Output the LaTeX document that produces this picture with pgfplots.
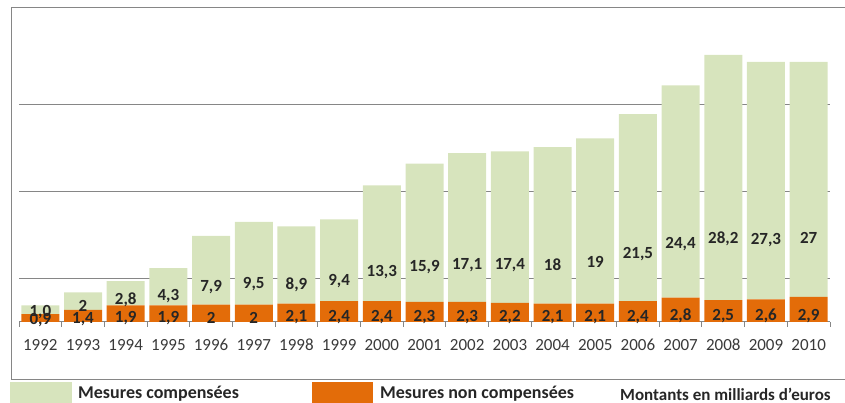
\documentclass[border=0pt]{standalone}
\usepackage{pgfplots}
\usepackage{pgfplotstable}
\pgfplotsset{compat=1.18}
\usepackage{fontspec}
\setmainfont{Carlito}[Ligatures=ResetAll]
\definecolor{cgreen}{HTML}{D7E4BD}
\definecolor{corange}{HTML}{E36C09}
\definecolor{cgrid}{HTML}{868686}
\definecolor{ctext}{HTML}{262626}
\definecolor{cyear}{HTML}{3A3A3A}

\pgfplotstableread{
x o g ol gl
0 0.9 1.0 0,9 1,0
1 1.4 2 1,4 2
2 1.9 2.8 1,9 2,8
3 1.9 4.3 1,9 4,3
4 2 7.9 2 7,9
5 2 9.5 2 9,5
6 2.1 8.9 2,1 8,9
7 2.4 9.4 2,4 9,4
8 2.4 13.3 2,4 13,3
9 2.3 15.9 2,3 15,9
10 2.3 17.1 2,3 17,1
11 2.2 17.4 2,2 17,4
12 2.1 18 2,1 18
13 2.1 19 2,1 19
14 2.4 21.5 2,4 21,5
15 2.8 24.4 2,8 24,4
16 2.5 28.2 2,5 28,2
17 2.6 27.3 2,6 27,3
18 2.9 27 2,9 27
}\data

\begin{document}
\begin{tikzpicture}[x=1pt,y=1pt]
\useasboundingbox (-19,-81) rectangle (826,322);
\begin{axis}[
  at={(0,0)}, anchor=south west,
  scale only axis, width=811pt, height=314pt,
  xmin=-0.5, xmax=18.5, ymin=0, ymax=36.09,
  ybar stacked, bar width=38pt,
  axis line style={draw=none},
  ytick={5,15,25}, yticklabels={},
  ymajorgrids, major grid style={cgrid, line width=1.2pt},
  major tick length=0pt,
  tick style={draw=cgrid, line width=1pt},
  xtick pos=bottom, ytick pos=left,
  xtick={0,...,18},
  xticklabels={1992,1993,1994,1995,1996,1997,1998,1999,2000,2001,2002,2003,2004,2005,2006,2007,2008,2009,2010},
  xticklabel style={anchor=center, yshift=-23pt, font=\fontsize{17}{19}\selectfont, text=cyear},
  extra x ticks={-0.5,0.5,...,18.5},
  extra x tick labels={},
  extra x tick style={major tick length=5pt, tick align=outside, grid=none},
  point meta=explicit symbolic,
  nodes near coords,
  every node near coord/.append style={anchor=center, font=\bfseries\fontsize{17}{19}\selectfont, text=ctext, yshift={-2.175pt*\hv}},
]
\addplot[fill=corange, draw=none, visualization depends on={\thisrow{o} \as \hv}] table[x=x, y=o, meta=ol] {\data};
\addplot[fill=cgreen, draw=none, visualization depends on={\thisrow{g} \as \hv}] table[x=x, y=g, meta=gl] {\data};
\draw[cgrid, line width=1.2pt] (axis cs:-0.5,0) -- (axis cs:18.5,0);
\end{axis}
\draw[cgrid, line width=1pt] (-7,314) rectangle (850,-58);
\fill[cgreen] (-9,-60) rectangle (53,-90);
\fill[corange] (293,-60) rectangle (354,-90);
\node[anchor=west, inner sep=0pt, font=\bfseries\fontsize{18}{20}\selectfont, text=ctext] at (59,-72) {Mesures compensées};
\node[anchor=west, inner sep=0pt, font=\bfseries\fontsize{18}{20}\selectfont, text=ctext] at (361,-72) {Mesures non compensées};
\node[anchor=west, inner sep=0pt, font=\bfseries\fontsize{17}{20}\selectfont, text=ctext] at (601,-72) {Montants en milliards d'euros};
\end{tikzpicture}
\end{document}
